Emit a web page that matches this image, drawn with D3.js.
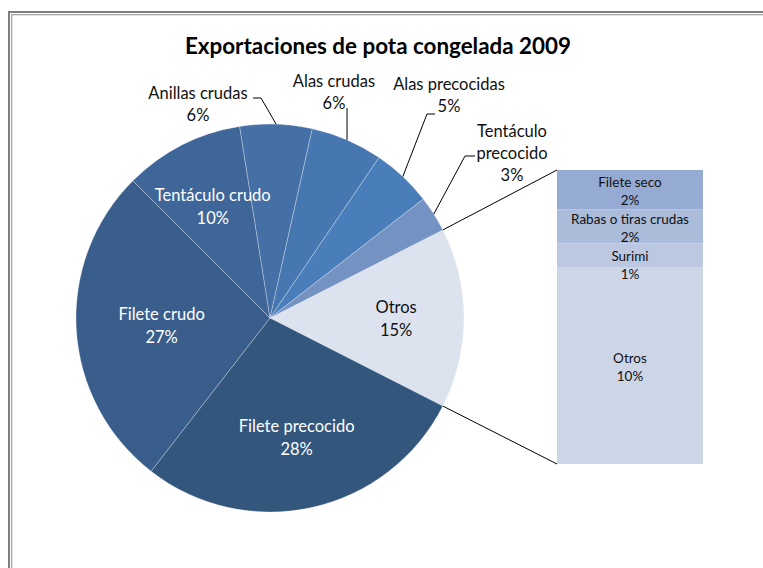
<!DOCTYPE html>
<html>
<head>
<meta charset="utf-8">
<script src="https://cdn.jsdelivr.net/npm/d3@7"></script>
<style>
  body { margin: 0; background: #fff; }
  text { font-family: Lato, "Open Sans", sans-serif; }
</style>
</head>
<body>
<div id="chart"></div>
<script>
var width = 763;
var height = 568;

// pie slices (percent of total)
var sliceNames = ["Otros", "Filete precocido", "Filete crudo", "Tentáculo crudo",
  "Anillas crudas", "Alas crudas", "Alas precocidas", "Tentáculo precocido"];
var sliceValues = [15, 28, 27, 10, 6, 6, 5, 3];

// breakdown of "Otros" in the bar
var barNames = ["Filete seco", "Rabas o tiras crudas", "Surimi", "Otros"];
var barValues = [2.0, 1.75, 1.2, 10.05];

var sliceColors = ["#dce2ee", "#33567d", "#3a5e8c", "#3f6698",
  "#4570a5", "#4777b0", "#4a7ebb", "#7493c3"];
var barColors = ["#95abd3", "#abbbda", "#bcc8e2", "#cdd6e7"];

var cx = 270, cy = 318, radius = 194;
var barX = 557, barW = 146, barTop = 170, barBottom = 464;

var svg = d3.select("#chart").append("svg")
  .attr("width", width)
  .attr("height", height);

// chart frame (cut off at right / bottom like the screenshot)
svg.append("rect")
  .attr("x", 9).attr("y", 12)
  .attr("width", 800).attr("height", 600)
  .attr("fill", "none").attr("stroke", "#7f7f7f").attr("stroke-width", 2);
svg.append("rect")
  .attr("x", 11.7).attr("y", 14.7)
  .attr("width", 800).attr("height", 600)
  .attr("fill", "none").attr("stroke", "#a6a6a6").attr("stroke-width", 1.3);

svg.append("text")
  .attr("x", 378).attr("y", 54)
  .attr("text-anchor", "middle")
  .style("font-size", "22.4px")
  .style("font-weight", "bold")
  .attr("fill", "#000")
  .text("Exportaciones de pota congelada 2009");

var total = d3.sum(sliceValues);
var a0 = Math.PI / 2 - sliceValues[0] / total * Math.PI;

var pie = d3.pie().sort(null).startAngle(a0).endAngle(a0 + 2 * Math.PI);
var arcs = pie(sliceValues);

var arc = d3.arc().innerRadius(0).outerRadius(radius);

var g = svg.append("g").attr("transform", "translate(" + cx + "," + cy + ")");

g.selectAll("path")
  .data(arcs)
  .enter().append("path")
  .attr("d", arc)
  .attr("fill", function(d, i) { return sliceColors[i]; })
  .attr("stroke", "rgba(255,255,255,0.35)")
  .attr("stroke-width", 0.8);

function pct(v) { return d3.format(".0f")(v) + "%"; }

function twoLines(sel, x, y, lines, lh) {
  var t = sel.append("text")
    .attr("text-anchor", "middle")
    .style("font-size", "16.5px");
  lines.forEach(function(s, k) {
    t.append("tspan").attr("x", x).attr("y", y + k * lh).text(s);
  });
  return t;
}

// labels inside the pie
var inside = { "Otros": 0.65, "Filete precocido": 0.63, "Filete crudo": 0.56, "Tentáculo crudo": 0.65 };
arcs.forEach(function(d, i) {
  var name = sliceNames[i];
  if (!(name in inside)) return;
  var r = radius * inside[name];
  var c = d3.arc().innerRadius(r).outerRadius(r).centroid(d);
  twoLines(g, c[0], c[1] - 5, [name, pct(d.data)], 23)
    .attr("fill", i === 0 ? "#111" : "#fff");
});

// labels outside with leader lines (label lines, elbow point)
var outside = {
  "Anillas crudas": { x: 198, y: 99, lines: ["Anillas crudas", "6%"], elbow: [[253, 98], [261, 98]] },
  "Alas crudas": { x: 334, y: 87, lines: ["Alas crudas", "6%"], elbow: [[347, 108]] },
  "Alas precocidas": { x: 449, y: 90, lines: ["Alas precocidas", "5%"], elbow: [[435, 114], [427, 114]] },
  "Tentáculo precocido": { x: 512, y: 137, lines: ["Tentáculo", "precocido", "3%"], elbow: [[475, 156], [465, 156]] }
};
arcs.forEach(function(d, i) {
  var o = outside[sliceNames[i]];
  if (!o) return;
  var c = d3.arc().innerRadius(radius).outerRadius(radius).centroid(d);
  var pts = o.elbow.concat([[c[0] + cx, c[1] + cy]]);
  svg.append("path")
    .attr("d", d3.line()(pts))
    .attr("fill", "none")
    .attr("stroke", "#000")
    .attr("stroke-width", 1);
  var lines = o.lines.slice(0, -1).concat([pct(d.data)]);
  twoLines(svg, o.x, o.y, lines, 22).attr("fill", "#111");
});

// stacked bar for the breakdown of "Otros"
var y = d3.scaleLinear()
  .domain([0, d3.sum(barValues)])
  .range([barTop, barBottom]);

var stackStart = d3.cumsum([0].concat(barValues));

svg.selectAll("rect.seg")
  .data(barValues)
  .enter().append("rect")
  .attr("class", "seg")
  .attr("x", barX)
  .attr("width", barW)
  .attr("y", function(d, i) { return y(stackStart[i]); })
  .attr("height", function(d, i) { return y(stackStart[i] + d) - y(stackStart[i]); })
  .attr("fill", function(d, i) { return barColors[i]; });

var prev = -Infinity;
barValues.forEach(function(v, i) {
  var mid = (y(stackStart[i]) + y(stackStart[i] + v)) / 2;
  var c = Math.max(mid, prev + 37);
  prev = c;
  var t = svg.append("text")
    .attr("text-anchor", "middle")
    .style("font-size", "13.5px")
    .attr("fill", "#111");
  t.append("tspan").attr("x", barX + barW / 2).attr("y", c - 3).text(barNames[i]);
  t.append("tspan").attr("x", barX + barW / 2).attr("y", c + 15).text(pct(v));
});

// connector lines from the "Otros" slice to the bar
var otros = arcs[0];
[[otros.startAngle, y(0)], [otros.endAngle, y(d3.sum(barValues))]].forEach(function(p) {
  var px = cx + radius * Math.sin(p[0]);
  var py = cy - radius * Math.cos(p[0]);
  svg.append("line")
    .attr("x1", px).attr("y1", py)
    .attr("x2", barX).attr("y2", p[1])
    .attr("stroke", "#000")
    .attr("stroke-width", 1);
});
</script>
</body>
</html>
